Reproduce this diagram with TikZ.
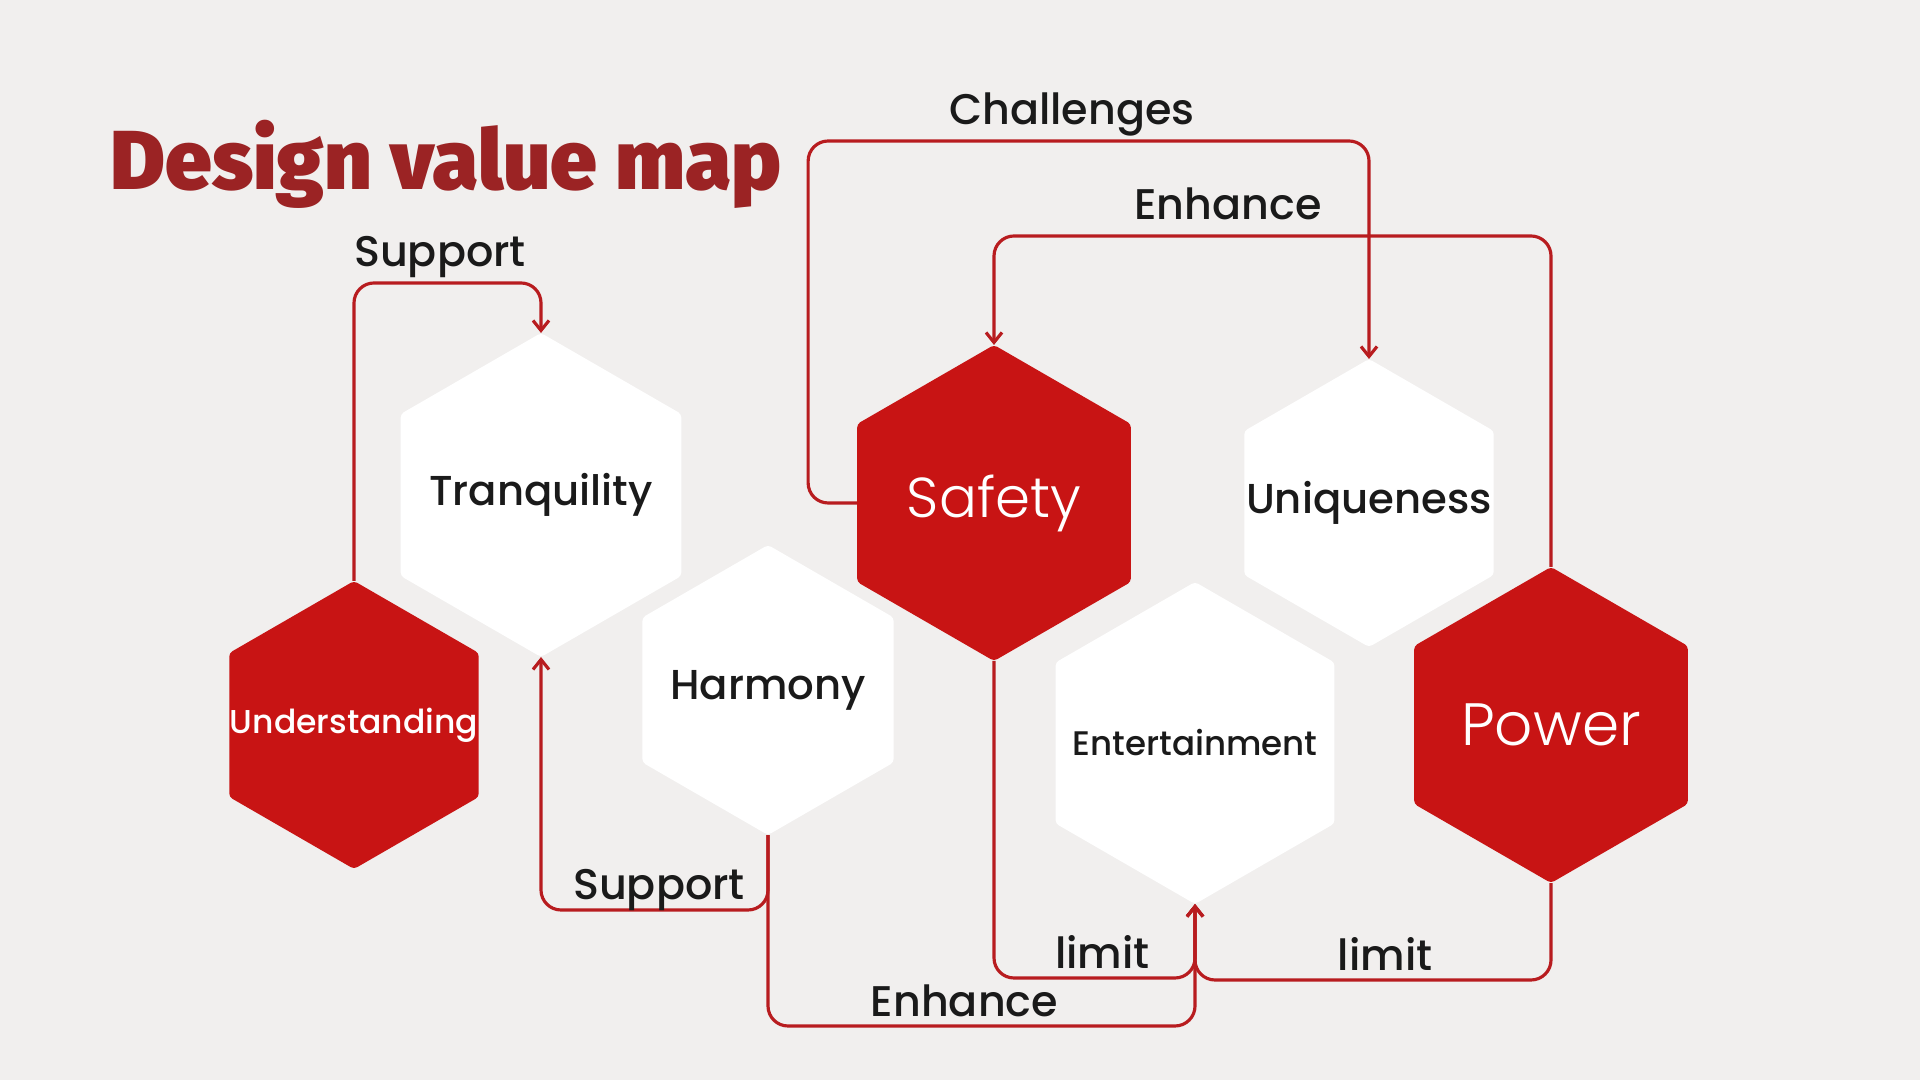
\documentclass[tikz,border=0pt]{standalone}
\usepackage{fontspec}
\setmainfont{Poppins Medium}
\newfontfamily\titlefont{Fira Sans Black}
\newfontfamily\thinfont{Poppins Light}
\usetikzlibrary{shapes.geometric,arrows.meta}
\definecolor{paper}{HTML}{F1EFEE}
\definecolor{hexred}{HTML}{C81414}
\definecolor{linered}{HTML}{B81C1F}
\definecolor{titlered}{HTML}{9B2324}
\definecolor{ink}{HTML}{1A1A1A}

\begin{document}
\begin{tikzpicture}[>={Straight Barb[length=1mm,width=1.6mm]},
		hexa/.style={regular polygon, regular polygon sides=6, shape border rotate=30, inner sep=0pt, outer sep=0pt, rounded corners=1pt},
		redhex/.style={hexa, fill=hexred},
		whitehex/.style={hexa, fill=white},
		darktxt/.style={text=ink, font=\fontsize{11.9}{14}\selectfont},
		smalltxt/.style={text=ink, font=\fontsize{9.7}{12}\selectfont},
		thintxt/.style={text=white, font=\thinfont\fontsize{16}{19}\selectfont},
		conn/.style={draw=linered, line width=0.9pt, rounded corners=2mm},
		lbl/.style={text=ink, font=\fontsize{12.2}{15}\selectfont, anchor=base, inner sep=0pt, yshift=1.6mm},
		lowlbl/.style={lbl, yshift=-0.6mm}]
		%\draw [help lines] (0,0) grid (19.2,10.8);
		\fill [paper] (0,0) rectangle (19.2,10.8);
		\useasboundingbox (0,0) rectangle (19.2,10.8);
		\node [anchor=base west, inner sep=0pt, text=titlered, font=\titlefont\fontsize{23.8}{28}\selectfont] (title) at (1.10,8.90) {Design value map};
		% hexagons
		\node [whitehex, minimum size=3.24cm, label={[darktxt]center:Tranquility}] (tran) at (5.41,5.85) {};
		\node [redhex, minimum size=3.16cm, label={[thintxt]center:Safety}] (safety) at (9.94,5.77) {};
		\node [whitehex, minimum size=2.88cm, label={[darktxt]center:Uniqueness}] (uniq) at (13.69,5.77) {};
		\node [redhex, minimum size=2.88cm, label={[smalltxt, text=white, font=\fontsize{9.4}{12}\selectfont]center:Understanding}] (und) at (3.54,3.55) {};
		\node [whitehex, minimum size=2.90cm, label={[darktxt]center:Harmony}] (harm) at (7.68,3.90) {};
		\node [whitehex, minimum size=3.22cm, label={[smalltxt]center:Entertainment}] (ent) at (11.95,3.37) {};
		\node [redhex, minimum size=3.16cm, label={[thintxt, font=\thinfont\fontsize{17}{20}\selectfont]center:Power}] (power) at (15.51,3.55) {};
		% connectors
		\draw [conn, ->] (und.north) |- ([yshift=5mm]tran.north) node [lbl, pos=0.73] {Support} -- (tran.north);
		\draw [conn, ->] (safety.west) -- ++(-0.49,0) |- ([yshift=2.18cm]uniq.north) node [lbl, pos=0.735] {Challenges} -- (uniq.north);
		\draw [conn, ->] (power.north) |- ([yshift=1.09cm]safety.north) node [lbl, pos=0.79] {Enhance} -- (safety.north);
		\draw [conn, ->] (harm.south) |- ([yshift=-2.53cm]tran.south) node [lowlbl, pos=0.74] {Support} -- (tran.south);
		\draw [conn, ->] (harm.south) |- ([yshift=-1.22cm]ent.south) node [lowlbl, pos=0.73] {Enhance} -- (ent.south);
		\draw [conn, ->] (safety.south) |- ([yshift=-0.74cm]ent.south) node [lowlbl, pos=0.77] {limit} -- (ent.south);
		\draw [conn, ->] (power.south) |- ([yshift=-0.76cm]ent.south) node [lowlbl, pos=0.733] {limit} -- (ent.south);
	\end{tikzpicture}
\end{document}
